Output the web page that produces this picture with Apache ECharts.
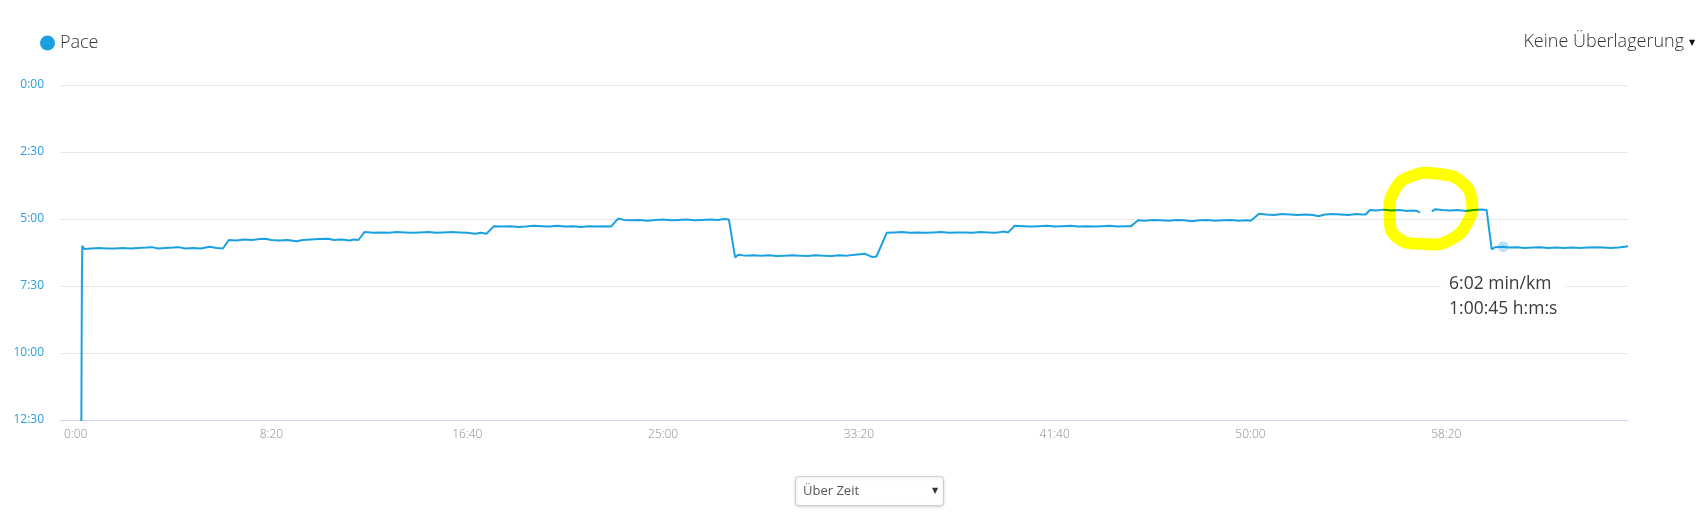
<!DOCTYPE html>
<html>
<head>
<meta charset="utf-8">
<script src="https://cdn.jsdelivr.net/npm/echarts@6/dist/echarts.min.js"></script>
<style>
  html, body { margin: 0; padding: 0; background: #fff; }
  #chart { width: 1702px; height: 514px; }
</style>
</head>
<body>
<div id="chart"></div>
<script>
// ---- data (seconds elapsed, pace in seconds per km) ----
const seriesName = 'Pace';
const timeSec = [
  14, 15, 16, 17, 22, 40, 60, 80, 100, 120, 140, 160, 180, 195, 210, 230, 250, 262, 280, 300, 320, 342, 360, 376,
  391, 410, 430, 450, 470, 484, 500, 520, 540, 564, 580, 600, 620, 645, 660, 680, 700, 710, 722,
  738, 760, 780, 800, 820, 840, 860, 880, 900, 920, 940, 960, 980, 1000, 1020, 1035, 1049,
  1068, 1090, 1110, 1130, 1150, 1170, 1190, 1210, 1230, 1250, 1270, 1290, 1310, 1330, 1350, 1367,
  1385, 1400, 1420, 1440, 1460, 1480, 1500, 1520, 1540, 1560, 1580, 1600, 1620, 1640, 1655, 1668,
  1684, 1692, 1710, 1730, 1750, 1770, 1790, 1810, 1830, 1850, 1870, 1890, 1910, 1930, 1950, 1970, 1990, 2016, 2033, 2045,
  2071, 2090, 2110, 2130, 2150, 2170, 2190, 2210, 2230, 2250, 2270, 2290, 2310, 2330, 2350, 2370, 2381,
  2398, 2420, 2440, 2460, 2480, 2500, 2520, 2540, 2560, 2580, 2600, 2620, 2640, 2660, 2680, 2695,
  2713, 2730, 2750, 2770, 2790, 2810, 2830, 2850, 2870, 2890, 2910, 2930, 2950, 2970, 2990, 3001,
  3022, 3040, 3060, 3080, 3100, 3120, 3140, 3160, 3173, 3190, 3210, 3230, 3250, 3270, 3285, 3294,
  3305, 3320, 3340, 3360, 3380, 3400, 3415, 3425, 3433, 3448, 3463, 3472, 3490, 3510, 3530, 3550, 3570, 3590, 3603,
  3616, 3625, 3645, 3660, 3680, 3700, 3720, 3740, 3760, 3780, 3800, 3820, 3840, 3860, 3880, 3900, 3920, 3940, 3955, 3964
];
const paceSec = [
  900, 640, 420, 360, 367, 366, 365, 366, 366, 365, 366, 365, 364, 363, 366, 365, 364, 363, 366, 365, 366, 362, 365, 366,
  347, 348, 346, 347, 345, 344, 347, 348, 347, 350, 347, 346, 345, 344, 347, 346, 348, 346, 347,
  329, 331, 330, 331, 329, 330, 331, 330, 329, 331, 330, 329, 330, 331, 333, 331, 333,
  316, 317, 316, 318, 317, 315, 316, 317, 315, 317, 316, 318, 316, 317, 316, 317,
  299, 302, 303, 302, 304, 302, 301, 303, 302, 301, 303, 302, 301, 302, 300, 301,
  386, 380, 382, 381, 382, 381, 383, 382, 381, 382, 383, 381, 382, 383, 381, 382, 380, 378, 385, 384,
  331, 330, 329, 331, 330, 331, 330, 329, 331, 330, 330, 331, 329, 330, 331, 328, 330,
  315, 316, 317, 316, 315, 317, 316, 315, 317, 316, 317, 316, 315, 317, 316, 316,
  303, 304, 302, 303, 304, 302, 303, 305, 303, 302, 304, 303, 302, 304, 303, 304,
  288, 290, 291, 289, 290, 291, 290, 291, 294, 290, 289, 290, 291, 289, 290, 290,
  280, 281, 279, 281, 280, 282, 281, 282, 286, null, 283, 278, 280, 281, 280, 282, 280, 279, 280,
  368, 363, 362, 364, 363, 365, 364, 363, 365, 364, 365, 364, 365, 364, 363, 364, 365, 364, 362, 361
];
const xTickValues = [0, 500, 1000, 1500, 2000, 2500, 3000, 3500];
const hoverPoint = [3645, 362];
const tooltipLines = ['6:02 min/km', '1:00:45 h:m:s'];
const headerRight = 'Keine Überlagerung';
const dropdownText = 'Über Zeit';
const ringCenter = [3460, 280];

// ---- helpers ----
function mss(v) {
  v = Math.round(v);
  const m = Math.floor(v / 60), s = v % 60;
  return m + ':' + String(s).padStart(2, '0');
}

const FONT = "'Open Sans', 'DejaVu Sans', sans-serif";
const BLUE = '#1ba1e2';
const seriesData = timeSec.map((t, i) => [t, paceSec[i]]);

const chart = echarts.init(document.getElementById('chart'), null, { renderer: 'canvas' });

chart.setOption({
  animation: false,
  backgroundColor: '#fff',
  textStyle: { fontFamily: FONT },
  legend: {
    data: [seriesName],
    left: 40, top: 34, padding: 0,
    icon: 'circle', itemWidth: 15, itemHeight: 15,
    selectedMode: false,
    textStyle: { fontSize: 18, color: '#333', fontWeight: 300, fontFamily: FONT }
  },
  grid: { left: 60, right: 74, top: 85, bottom: 94, containLabel: false },
  xAxis: {
    type: 'value',
    min: -40, max: 3964,
    axisLine: { show: true, onZero: false, lineStyle: { color: '#ccd6eb', width: 1 } },
    axisTick: { show: false },
    splitLine: { show: false },
    axisLabel: {
      customValues: xTickValues,
      formatter: v => mss(v),
      color: '#8a8a8a', fontSize: 12, fontWeight: 300, fontFamily: FONT, margin: 9
    }
  },
  yAxis: {
    type: 'value',
    inverse: true,
    min: 0, max: 750, interval: 150,
    axisLine: { show: false },
    axisTick: { show: false },
    splitLine: { show: true, lineStyle: { color: '#e6e6e6', width: 1 } },
    axisLabel: {
      formatter: v => mss(v),
      color: '#2a9fd8', fontSize: 12, fontFamily: FONT, margin: 16
    }
  },
  series: [{
    name: seriesName,
    type: 'line',
    data: seriesData,
    showSymbol: false,
    symbol: 'none',
    connectNulls: false,
    clip: true,
    color: BLUE,
    lineStyle: { color: BLUE, width: 2 },
    emphasis: { disabled: true },
    silent: true,
    markPoint: {
      silent: true,
      animation: false,
      data: [{
        coord: hoverPoint,
        symbol: 'circle',
        symbolSize: 11,
        itemStyle: { color: 'rgba(27,161,226,0.3)' },
        label: {
          show: true,
          position: 'inside',
          align: 'left',
          verticalAlign: 'middle',
          offset: [-62, 50],
          formatter: tooltipLines.join('\n'),
          color: '#3a3a3a',
          fontSize: 17.5,
          lineHeight: 25,
          fontFamily: FONT,
          backgroundColor: '#fff',
          padding: [2, 8]
        }
      }]
    }
  }]
});

// ---- non-data decorations: header, dropdown, highlighter ring ----
const c = chart.convertToPixel({ gridIndex: 0 }, ringCenter);
const ringOffsets = [[-19, -34], [9, -36], [31, -28], [41, -10], [37, 12], [19, 30], [-6, 34], [-34, 27], [-41, 5], [-36, -20]];
const ringPts = ringOffsets.map(o => [c[0] + o[0], c[1] + o[1]]);

chart.setOption({
  graphic: [
    {
      type: 'text', x: 1684, y: 42, silent: true,
      style: { text: headerRight, font: '300 18px ' + FONT, fill: '#333', align: 'right', verticalAlign: 'middle' }
    },
    {
      type: 'text', x: 1692, y: 43, silent: true,
      style: { text: '▼', font: '8px ' + FONT, fill: '#111', align: 'center', verticalAlign: 'middle' }
    },
    {
      type: 'rect', silent: true,
      shape: { x: 795.5, y: 476.5, width: 148, height: 29, r: 3 },
      style: { fill: '#fff', stroke: '#cfcfcf', lineWidth: 1, shadowBlur: 3, shadowOffsetY: 1, shadowColor: 'rgba(0,0,0,0.15)' }
    },
    {
      type: 'text', x: 803, y: 491.5, silent: true,
      style: { text: dropdownText, font: '13px ' + FONT, fill: '#555', align: 'left', verticalAlign: 'middle' }
    },
    {
      type: 'text', x: 935, y: 490.5, silent: true,
      style: { text: '▼', font: '8px ' + FONT, fill: '#333', align: 'center', verticalAlign: 'middle' }
    },
    {
      type: 'polygon', silent: true, z: 100,
      shape: { points: ringPts, smooth: 0.5 },
      style: { fill: null, stroke: '#ffff00', lineWidth: 12, blend: 'multiply' }
    }
  ]
});
</script>
</body>
</html>
